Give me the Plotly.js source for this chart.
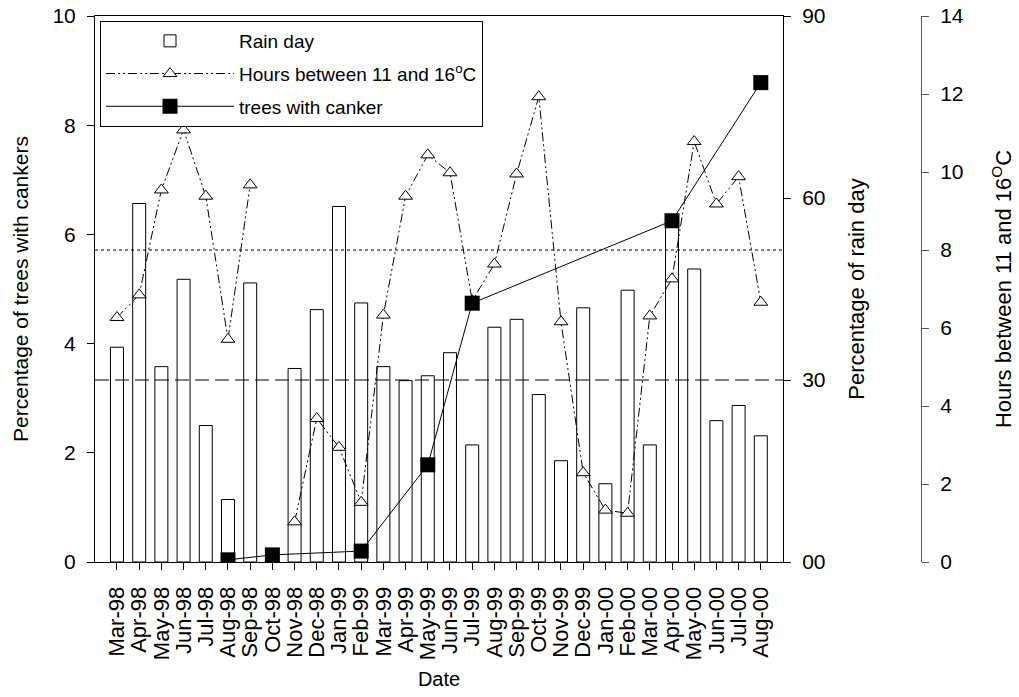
<!DOCTYPE html>
<html>
<head>
<meta charset="utf-8">
<script src="https://cdn.plot.ly/plotly-3.0.1.min.js"></script>
<style>html,body{margin:0;padding:0;background:#fff;}#chart{width:1019px;height:697px;}</style>
</head>
<body>
<div id="chart"></div>
<script>
// ---- data ----
const months = ['Mar-98','Apr-98','May-98','Jun-98','Jul-98','Aug-98','Sep-98','Oct-98','Nov-98','Dec-98',
  'Jan-99','Feb-99','Mar-99','Apr-99','May-99','Jun-99','Jul-99','Aug-99','Sep-99','Oct-99',
  'Nov-99','Dec-99','Jan-00','Feb-00','Mar-00','Apr-00','May-00','Jun-00','Jul-00','Aug-00'];
// Percentage of rain day (right axis, 0-90)
const rainDay = [35.4, 59.1, 32.2, 46.6, 22.5, 10.3, 46.0, null, 31.9, 41.6,
  58.6, 42.7, 32.2, 29.9, 30.7, 34.5, 19.3, 38.7, 40.0, 27.6,
  16.7, 41.9, 12.9, 44.8, 19.3, 55.5, 48.3, 23.3, 25.8, 20.8];
// Hours between 11 and 16 oC (third axis, 0-14)
const hours = [6.27, 6.85, 9.54, 11.08, 9.38, 5.71, 9.67, null, 1.03, 3.68,
  2.94, 1.53, 6.33, 9.38, 10.44, 9.98, 6.7, 7.64, 9.95, 11.93,
  6.16, 2.29, 1.33, 1.25, 6.31, 7.26, 10.78, 9.18, 9.88, 6.66];
// Percentage of trees with cankers (left axis, 0-10)
const canker = [null, null, null, null, null, 0.04, null, 0.13, null, null,
  null, 0.2, null, null, 1.78, null, 4.74, null, null, null,
  null, null, null, null, null, 6.25, null, null, null, 8.78];
// reference lines
const rainRef = 30;
const hoursRef = 8;
const rainTicks = [0, 30, 60, 90];
const rainTickText = ['00', '30', '60', '90'];

const FONT = 'Liberation Sans, Arial, sans-serif';

const traces = [
  {
    type: 'bar', name: 'Rain day', x: months, y: rainDay, yaxis: 'y', xaxis: 'x',
    width: 0.585, legendgroup: 'a',
    marker: {color: '#ffffff', line: {color: '#000000', width: 1}},
    hoverinfo: 'x+y'
  },
  {
    type: 'scatter', mode: 'lines+markers', name: 'Hours between 11 and 16<sup>o</sup>C',
    x: months, y: hours, yaxis: 'y2', xaxis: 'x', connectgaps: false, legendgroup: 'b',
    line: {color: '#000000', width: 1, dash: '9px,3px,2px,3px,2px,3px'},
    marker: {symbol: 'triangle-up', size: 12, color: '#ffffff', line: {color: '#000000', width: 1}}
  },
  {
    type: 'scatter', mode: 'lines+markers', name: 'trees with canker',
    x: months, y: canker, yaxis: 'y3', xaxis: 'x', connectgaps: true, legendgroup: 'c',
    line: {color: '#000000', width: 1},
    marker: {symbol: 'square', size: 15, color: '#000000'}
  }
];

const plotW = 1019 - 95 - 98;
const layout = {
  width: 1019, height: 697,
  margin: {l: 95, r: 98, t: 16, b: 135, pad: 0},
  paper_bgcolor: '#ffffff', plot_bgcolor: '#ffffff',
  font: {family: FONT, color: '#000000', size: 21},
  showlegend: true,
  legend: {
    x: 5 / plotW, y: 1 - 5 / 546, xanchor: 'left', yanchor: 'top',
    bgcolor: '#ffffff', bordercolor: '#000000', borderwidth: 1,
    font: {family: FONT, size: 19, color: '#000000'},
    tracegroupgap: 5, itemwidth: 128
  },
  bargap: 0,
  xaxis: {
    type: 'category', categoryorder: 'array', categoryarray: months,
    tickmode: 'array', tickvals: months, ticktext: months,
    range: [-0.99, 30.0], domain: [0, 688 / plotW],
    showline: true, mirror: true, linecolor: '#000000', linewidth: 1,
    ticks: 'outside', ticklen: 7, tickcolor: '#000000', tickangle: -90,
    tickfont: {family: FONT, size: 22}, ticklabelstandoff: 8,
    showgrid: false, zeroline: false, fixedrange: true, anchor: 'y3',
    title: {text: 'Date', font: {family: FONT, size: 20}, standoff: 12}
  },
  yaxis: {
    side: 'right', range: [0, 90], tickvals: rainTicks, ticktext: rainTickText,
    showline: true, linecolor: '#000000', linewidth: 1,
    ticks: 'outside', ticklen: 7, tickcolor: '#000000',
    tickfont: {family: FONT, size: 21}, ticklabelstandoff: 7,
    showgrid: false, zeroline: false, anchor: 'x',
    title: {text: 'Percentage of rain day', font: {family: FONT, size: 22}, standoff: 24}
  },
  yaxis2: {
    overlaying: 'y', side: 'right', anchor: 'free', position: 1.0,
    range: [0, 14], dtick: 2, tick0: 0,
    showline: true, linecolor: '#555555', linewidth: 1,
    ticks: 'outside', ticklen: 7, tickcolor: '#555555',
    tickfont: {family: FONT, size: 21}, ticklabelstandoff: 7,
    showgrid: false, zeroline: false,
    title: {text: 'Hours between 11 and 16<sup>O</sup>C', font: {family: FONT, size: 22}, standoff: 32}
  },
  yaxis3: {
    overlaying: 'y', side: 'left', anchor: 'x',
    range: [0, 10], dtick: 2, tick0: 0,
    showline: true, linecolor: '#000000', linewidth: 1,
    ticks: 'outside', ticklen: 7, tickcolor: '#000000',
    tickfont: {family: FONT, size: 21}, ticklabelstandoff: 7,
    showgrid: false, zeroline: false,
    title: {text: 'Percentage of trees with cankers', font: {family: FONT, size: 21}, standoff: 18}
  },
  shapes: [
    {type: 'line', xref: 'x domain', yref: 'y2', x0: 0, x1: 1, y0: hoursRef, y1: hoursRef,
     line: {color: '#000000', width: 1, dash: 'dot'}},
    {type: 'line', xref: 'x domain', yref: 'y', x0: 0, x1: 1, y0: rainRef, y1: rainRef,
     line: {color: '#000000', width: 1, dash: '14px,6px'}}
  ]
};

Plotly.newPlot('chart', traces, layout, {displayModeBar: false, staticPlot: true});
</script>
</body>
</html>
